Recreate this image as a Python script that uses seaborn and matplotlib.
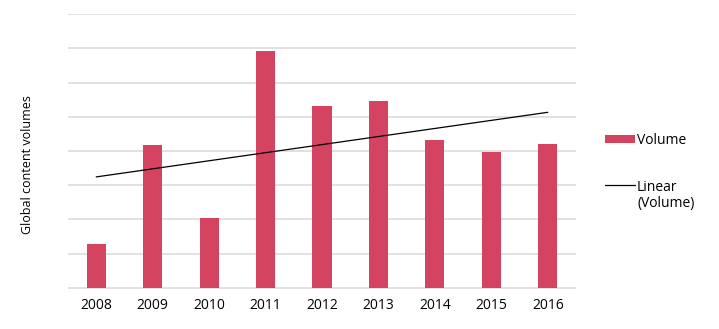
import numpy as np
import pandas as pd
import matplotlib
matplotlib.use("Agg")
import matplotlib.pyplot as plt
import seaborn as sns
from matplotlib.patches import Rectangle
from matplotlib.lines import Line2D

years = ["2008", "2009", "2010", "2011", "2012", "2013", "2014", "2015", "2016"]
volume = [1.28, 4.18, 2.04, 6.92, 5.31, 5.46, 4.32, 3.97, 4.20]
y_label = "Global content volumes"
legend_labels = ["Volume", "Linear\n(Volume)"]

sns.set_theme(style="white")
plt.rcParams['font.family'] = ['Open Sans', 'DejaVu Sans']

BAR = "#D44360"
GRID = "#D9D9D9"
FS = 10

W, H = 719, 329
fig = plt.figure(figsize=(W/100, H/100), dpi=100)
ax = fig.add_axes([68/W, 1-288.5/H, (576-68)/W, (288.5-13.5)/H])

df = pd.DataFrame({"year": years, "volume": volume})
sns.barplot(data=df, x="year", y="volume", color=BAR, width=0.34, ax=ax,
            saturation=1, edgecolor="none", zorder=3)

# linear trend line
idx = np.arange(len(years))
slope, intercept = np.polyfit(idx, volume, 1)
trend = slope * idx + intercept
ax.plot(idx, trend, color="black", lw=0.9, zorder=4)

ax.set_xlim(-0.5, len(years) - 0.5)
ax.set_ylim(-0.015, 8.015)
ax.set_yticks(np.arange(0, 9, 1))
ax.set_yticklabels([])
ax.yaxis.grid(True, color=GRID, lw=1.1, zorder=0)
ax.set_axisbelow(True)
for s in ax.spines.values():
    s.set_visible(False)
ax.tick_params(axis="both", length=0)
ax.tick_params(axis="x", pad=7, labelsize=FS, colors="black")
ax.set_xlabel("")
ax.set_ylabel("")

fig.text(28/W, 1-165/H, y_label, rotation=90, ha="center", va="center",
         fontsize=9, color="black")

# legend (drawn manually to match the reference's alignment)
fig.add_artist(Rectangle((605/W, 1-143/H), 30/W, 8/H, transform=fig.transFigure,
                         facecolor=BAR, edgecolor="none"))
fig.text(637/W, 1-141/H, legend_labels[0], ha="left", va="center",
         fontsize=FS, color="black")
fig.add_artist(Line2D([605/W, 635/W], [1-185/H, 1-185/H],
                      transform=fig.transFigure, color="black", lw=0.9))
fig.text(637/W, 1-180/H, legend_labels[1], ha="left", va="top",
         fontsize=FS, color="black", linespacing=1.05)

fig.savefig("out.png", dpi=100)
